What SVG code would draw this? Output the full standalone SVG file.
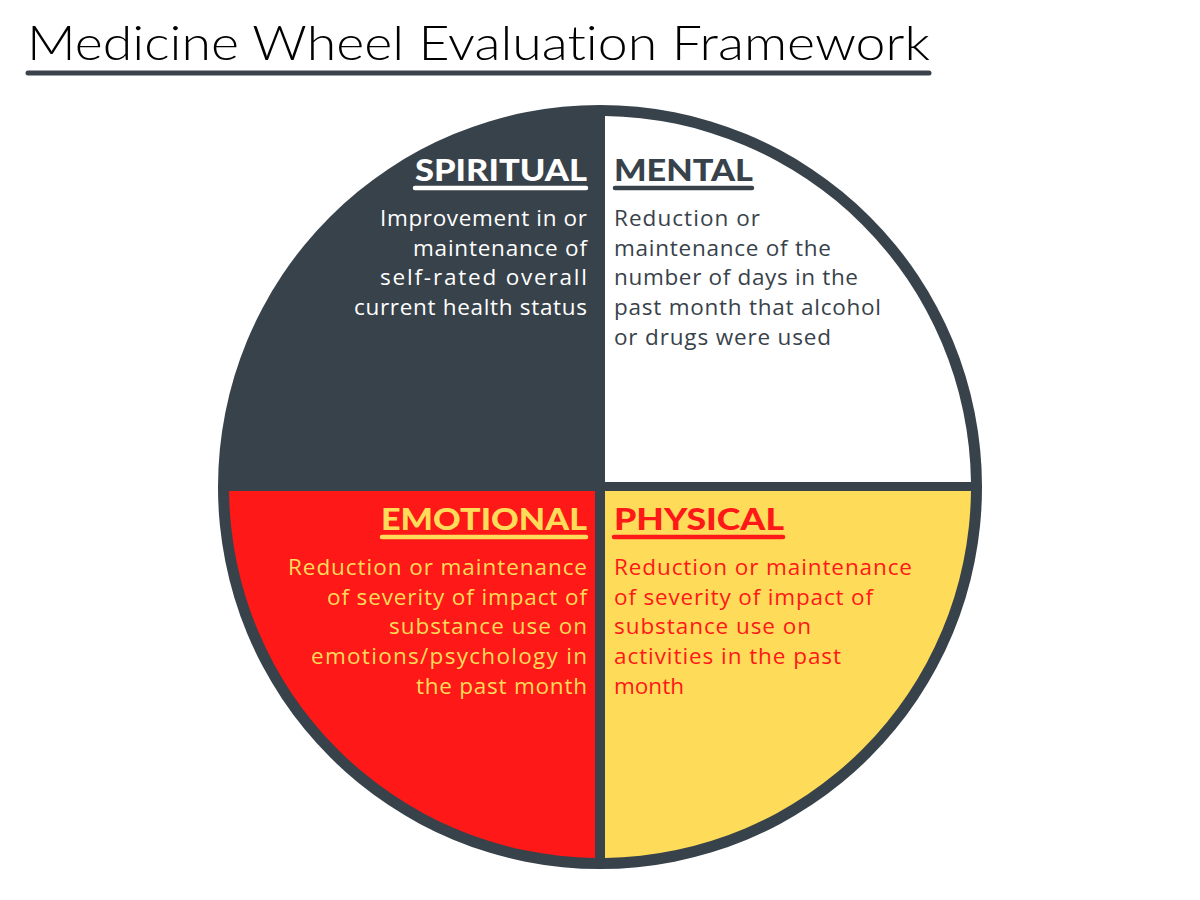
<svg xmlns="http://www.w3.org/2000/svg" width="1200" height="900" viewBox="0 0 1200 900">
<style>
.title{font-family:"Lato","Open Sans","Liberation Sans",sans-serif;font-weight:300;font-size:48px;fill:#000;font-variant-ligatures:none}
.head{font-family:"Lato","Roboto","Liberation Sans",sans-serif;font-weight:900;font-size:31px}
.body{font-family:"Open Sans","Lato","Liberation Sans",sans-serif;font-weight:400;font-size:22.5px;font-variant-ligatures:none}
.ul{stroke-width:4.5;stroke-linecap:round;fill:none}
.r{text-anchor:end}
</style>
<rect width="1200" height="900" fill="#fff"/>
<g id="title">
<text class="title" x="27" y="60" textLength="903" lengthAdjust="spacingAndGlyphs">Medicine Wheel Evaluation Framework</text>
<line x1="28" y1="73" x2="929" y2="73" stroke="#3a434b" stroke-width="5" stroke-linecap="round"/>
</g>
<g id="wheel">
<circle cx="600" cy="487" r="382" fill="#38424a"/>
<path d="M605,482 L970.97,482 A371,371 0 0 0 605,116.03 Z" fill="#ffffff"/>
<path d="M595,491 L229.03,491 A371,371 0 0 0 595,857.97 Z" fill="#fe1818"/>
<path d="M605,491 L605,857.97 A371,371 0 0 0 970.97,491 Z" fill="#fedc5a"/>
</g>
<g id="spiritual">
<text class="head r" x="587" y="181" fill="#ffffff" textLength="172" lengthAdjust="spacingAndGlyphs">SPIRITUAL</text>
<line class="ul" x1="415" y1="188" x2="586" y2="188" stroke="#ffffff"/>
<g class="body r" fill="#ffffff">
<text x="587" y="226" textLength="207" lengthAdjust="spacing">Improvement in or</text>
<text x="587" y="255.7" textLength="174" lengthAdjust="spacing">maintenance of</text>
<text x="587" y="285.4" textLength="207" lengthAdjust="spacing">self-rated overall</text>
<text x="587" y="315" textLength="233" lengthAdjust="spacing">current health status</text>
</g>
</g>
<g id="mental">
<text class="head" x="614" y="181" fill="#38424a" textLength="139" lengthAdjust="spacingAndGlyphs">MENTAL</text>
<line class="ul" x1="615" y1="188" x2="752" y2="188" stroke="#38424a"/>
<g class="body" fill="#38424a">
<text x="614" y="226" textLength="146" lengthAdjust="spacing">Reduction or</text>
<text x="614" y="255.7" textLength="217" lengthAdjust="spacing">maintenance of the</text>
<text x="614" y="285.4" textLength="244" lengthAdjust="spacing">number of days in the</text>
<text x="614" y="315" textLength="267" lengthAdjust="spacing">past month that alcohol</text>
<text x="614" y="344.7" textLength="217" lengthAdjust="spacing">or drugs were used</text>
</g>
</g>
<g id="emotional">
<text class="head r" x="587" y="530" fill="#fedc5a" textLength="206" lengthAdjust="spacingAndGlyphs">EMOTIONAL</text>
<line class="ul" x1="382" y1="537" x2="586" y2="537" stroke="#fedc5a"/>
<g class="body r" fill="#fedc5a">
<text x="587" y="575" textLength="299" lengthAdjust="spacing">Reduction or maintenance</text>
<text x="587" y="604.7" textLength="260" lengthAdjust="spacing">of severity of impact of</text>
<text x="587" y="634.4" textLength="198" lengthAdjust="spacing">substance use on</text>
<text x="587" y="664" textLength="276" lengthAdjust="spacing">emotions/psychology in</text>
<text x="587" y="693.7" textLength="171" lengthAdjust="spacing">the past month</text>
</g>
</g>
<g id="physical">
<text class="head" x="614" y="530" fill="#fe1818" textLength="170" lengthAdjust="spacingAndGlyphs">PHYSICAL</text>
<line class="ul" x1="614" y1="537" x2="783" y2="537" stroke="#fe1818"/>
<g class="body" fill="#fe1818">
<text x="614" y="575" textLength="298" lengthAdjust="spacing">Reduction or maintenance</text>
<text x="614" y="604.7" textLength="259" lengthAdjust="spacing">of severity of impact of</text>
<text x="614" y="634.4" textLength="197" lengthAdjust="spacing">substance use on</text>
<text x="614" y="664" textLength="227" lengthAdjust="spacing">activities in the past</text>
<text x="614" y="693.7" textLength="70" lengthAdjust="spacing">month</text>
</g>
</g>
</svg>
